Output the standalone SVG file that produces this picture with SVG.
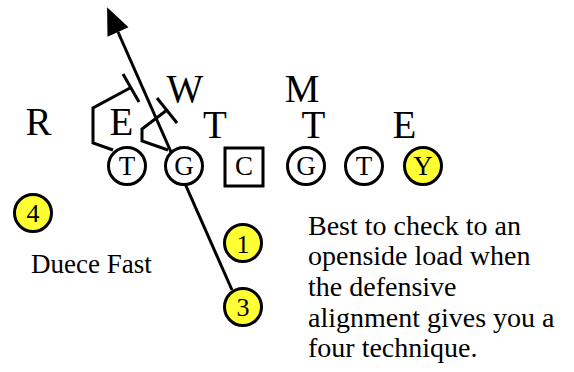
<svg xmlns="http://www.w3.org/2000/svg" width="574" height="372" viewBox="0 0 574 372">
<style>
text{font-family:"Liberation Serif","Times New Roman",serif;fill:#000}
.lbl{font-size:39px;text-anchor:middle}
.pl{font-size:27px;text-anchor:middle}
.num{font-size:26px;text-anchor:middle}
.body{font-size:28px}
.cap{font-size:27px}
.pc{fill:#fff;stroke:#000;stroke-width:3}
.yc{fill:#ffff33;stroke:#000;stroke-width:3}
.ln{fill:none;stroke:#000;stroke-width:3;stroke-linejoin:miter}
</style>
<defs>
<marker id="ah" markerUnits="userSpaceOnUse" markerWidth="30" markerHeight="26" viewBox="0 -13 28 26" refX="0" refY="0" orient="auto">
<path d="M0,-11.5 L27,0 L0,11.5 Z" fill="#000"/>
</marker>
</defs>
<rect width="574" height="372" fill="#fff"/>
<g id="connectors">
<path class="ln" d="M232,290 L118,32" marker-end="url(#ah)"/>
<path class="ln" d="M113,150 L93,143 L93,108 L130,88"/>
<path class="ln" d="M123,74 L139,102"/>
<path class="ln" d="M168,150 L142,141 L142,129 L167,110"/>
<path class="ln" d="M157,98 L177,123"/>
</g>
<g id="def-R"><text class="lbl" x="38.5" y="135">R</text></g>
<g id="def-E1"><text class="lbl" x="121.5" y="135">E</text></g>
<g id="def-W"><text class="lbl" x="185" y="102">W</text></g>
<g id="def-M"><text class="lbl" x="302" y="102">M</text></g>
<g id="def-T1"><text class="lbl" x="215" y="138">T</text></g>
<g id="def-T2"><text class="lbl" x="313.5" y="138">T</text></g>
<g id="def-E2"><text class="lbl" x="404.5" y="138">E</text></g>
<g id="off-T1"><circle class="pc" cx="127" cy="166" r="18.5"/><text class="pl" x="127" y="175">T</text></g>
<g id="off-G1"><circle class="pc" cx="184" cy="166" r="18.5"/><text class="pl" x="184" y="175">G</text></g>
<g id="off-C"><rect class="pc" x="225" y="148" width="38" height="38"/><text class="pl" x="244" y="175">C</text></g>
<g id="off-G2"><circle class="pc" cx="306" cy="166" r="18.5"/><text class="pl" x="306" y="175">G</text></g>
<g id="off-T2"><circle class="pc" cx="364" cy="166" r="18.5"/><text class="pl" x="364" y="175">T</text></g>
<g id="off-Y"><circle class="yc" cx="423" cy="166" r="18.5"/><text class="pl" x="423" y="175">Y</text></g>
<g id="back-4"><circle class="yc" cx="33" cy="213" r="18.5"/><text class="num" x="33" y="222">4</text></g>
<g id="back-1"><circle class="yc" cx="243" cy="243" r="18.5"/><text class="num" x="243" y="252.5">1</text></g>
<g id="back-3"><circle class="yc" cx="243" cy="307" r="18.5"/><text class="num" x="243" y="315.5">3</text></g>
<g id="caption"><text class="cap" x="31" y="273">Duece Fast</text></g>
<g id="note">
<text class="body" x="308" y="235">Best to check to an</text>
<text class="body" x="308" y="265">openside load when</text>
<text class="body" x="308" y="296">the defensive</text>
<text class="body" x="308" y="327">alignment gives you a</text>
<text class="body" x="308" y="357">four technique.</text>
</g>
</svg>
